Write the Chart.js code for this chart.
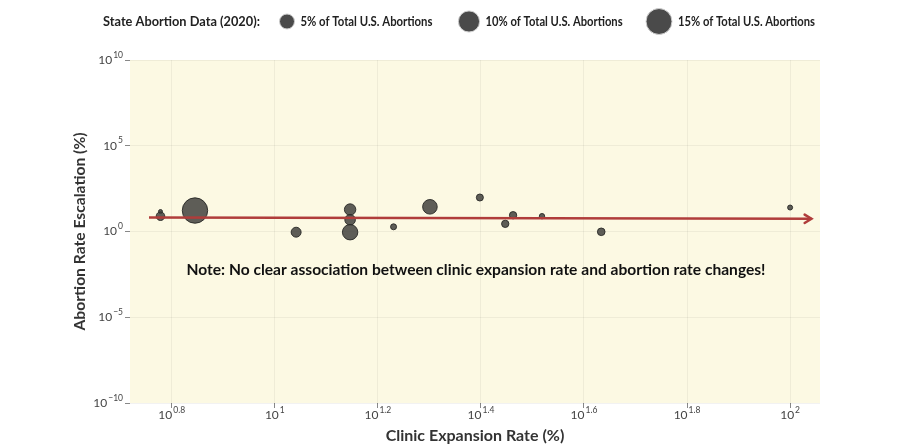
<!DOCTYPE html>
<html>
<head>
<meta charset="utf-8">
<script src="https://cdn.jsdelivr.net/npm/chart.js@4.4.1/dist/chart.umd.min.js"></script>
<style>
  html, body { margin: 0; padding: 0; background: #fff; }
</style>
</head>
<body>
<canvas id="chart" width="902" height="446"></canvas>
<script>
// state points: clinic expansion rate (%), abortion rate escalation (%), share of US abortions (%)
const clinicExpansion = [6, 6, 7, 11, 14, 14, 14, 17, 20, 25, 28, 29, 33, 43, 100];
const abortionEscalation = [14.6, 7.8, 16.7, 0.91, 19.1, 4.8, 0.91, 1.88, 27.5, 96, 2.8, 8.9, 7.8, 0.96, 25];
const abortionShare = [0.36, 1.65, 14.4, 2.2, 2.9, 2.5, 5.3, 0.8, 4.75, 1.1, 1.2, 1.2, 0.65, 1.3, 0.56];

// trend arrow
const trendX = [5.7, 110];
const trendY = [6.5, 5.5];

// axis ticks (powers of ten)
const xTickExps = [0.8, 1, 1.2, 1.4, 1.6, 1.8, 2];
const yTickExps = [-10, -5, 0, 5, 10];

// size legend
const legendShares = [5, 10, 15];
const legendLabels = ['5% of Total U.S. Abortions', '10% of Total U.S. Abortions', '15% of Total U.S. Abortions'];

const FONT = 'Lato, "Noto Sans", sans-serif';
const BUBBLE_FILL = 'rgba(66, 66, 62, 0.85)';
const BUBBLE_EDGE = 'rgba(40, 40, 38, 0.9)';
const TREND_COLOR = '#b03d3b';

function bubbleRadius(share) {
    return 3.35 * Math.sqrt(share);
}

// the original uses a narrow face, so squeeze wide text into the same room
function drawNarrow(ctx, text, x, y, size, width, align) {
    ctx.font = `bold ${size}px ${FONT}`;
    const sx = Math.min(1, width / ctx.measureText(text).width);
    ctx.save();
    ctx.translate(x, y);
    ctx.scale(sx, 1);
    ctx.textAlign = align;
    ctx.textBaseline = 'middle';
    ctx.fillText(text, 0, 0);
    ctx.restore();
}

function expLabel(e) {
    return String(e).replace('-', '\u2212');
}

// "10" with a raised exponent
function drawPower(ctx, exp, x, y, align) {
    ctx.font = `12px ${FONT}`;
    const baseW = ctx.measureText('10').width;
    ctx.font = `8.5px ${FONT}`;
    const expW = ctx.measureText(exp).width;
    const left = align === 'right' ? x - baseW - expW - 1 : x - (baseW + expW + 1) / 2;
    ctx.textAlign = 'left';
    ctx.textBaseline = 'middle';
    ctx.font = `12px ${FONT}`;
    ctx.fillText('10', left, y);
    ctx.font = `8.5px ${FONT}`;
    ctx.fillText(exp, left + baseW + 1, y - 5);
}

const decorPlugin = {
    id: 'decor',
    beforeDraw(chart) {
        const { ctx, chartArea: a } = chart;
        ctx.save();
        ctx.fillStyle = '#fcf9e3';
        ctx.fillRect(a.left, a.top, a.right - a.left, a.bottom - a.top);
        ctx.restore();
    },
    afterDatasetsDraw(chart) {
        // arrow head at the end of the trend line
        const { ctx } = chart;
        const xs = chart.scales.x, ys = chart.scales.y;
        const n = trendX.length;
        const x1 = xs.getPixelForValue(trendX[n - 2]), y1 = ys.getPixelForValue(trendY[n - 2]);
        const x2 = xs.getPixelForValue(trendX[n - 1]), y2 = ys.getPixelForValue(trendY[n - 1]);
        const ang = Math.atan2(y2 - y1, x2 - x1);
        const len = 8;
        ctx.save();
        ctx.strokeStyle = TREND_COLOR;
        ctx.lineWidth = 2.5;
        ctx.lineCap = 'round';
        ctx.beginPath();
        ctx.moveTo(x2 - len * Math.cos(ang - 0.55), y2 - len * Math.sin(ang - 0.55));
        ctx.lineTo(x2, y2);
        ctx.lineTo(x2 - len * Math.cos(ang + 0.55), y2 - len * Math.sin(ang + 0.55));
        ctx.stroke();
        ctx.restore();
    },
    afterDraw(chart) {
        const { ctx, chartArea: a } = chart;
        const xs = chart.scales.x, ys = chart.scales.y;
        ctx.save();

        // tick labels
        ctx.fillStyle = '#444';
        yTickExps.forEach(e => {
            drawPower(ctx, expLabel(e), a.left - 7, ys.getPixelForValue(Math.pow(10, e)), 'right');
        });
        xTickExps.forEach(e => {
            drawPower(ctx, expLabel(e), xs.getPixelForValue(Math.pow(10, e)), a.bottom + 12, 'center');
        });

        // axis titles
        ctx.fillStyle = '#333';
        drawNarrow(ctx, 'Clinic Expansion Rate (%)', (a.left + a.right) / 2, 436, 16, 180, 'center');
        ctx.save();
        ctx.translate(80, (a.top + a.bottom) / 2);
        ctx.rotate(-Math.PI / 2);
        drawNarrow(ctx, 'Abortion Rate Escalation (%)', 0, 0, 16, 198, 'center');
        ctx.restore();

        // note
        ctx.fillStyle = '#111';
        drawNarrow(ctx, 'Note: No clear association between clinic expansion rate and abortion rate changes!',
            476, 270, 16, 579, 'center');

        // size legend
        ctx.fillStyle = '#222';
        drawNarrow(ctx, 'State Abortion Data (2020):', 103, 21.5, 13.5, 157, 'left');
        const circleX = [287, 469, 659];
        legendShares.forEach((s, i) => {
            ctx.beginPath();
            ctx.arc(circleX[i], 21.5, bubbleRadius(s), 0, Math.PI * 2);
            ctx.fillStyle = '#4a4a4a';
            ctx.fill();
            ctx.strokeStyle = '#d0d0d0';
            ctx.lineWidth = 1;
            ctx.stroke();
            ctx.fillStyle = '#222';
            drawNarrow(ctx, legendLabels[i], circleX[i] + bubbleRadius(s) + 6, 21.5, 12.5, i === 0 ? 132 : 137, 'left');
        });

        ctx.restore();
    }
};

const points = clinicExpansion.map((x, i) => ({
    x: x,
    y: abortionEscalation[i],
    r: bubbleRadius(abortionShare[i])
}));

new Chart(document.getElementById('chart'), {
    type: 'bubble',
    data: {
        datasets: [
            {
                type: 'line',
                data: trendX.map((x, i) => ({ x: x, y: trendY[i] })),
                borderColor: TREND_COLOR,
                borderWidth: 2.5,
                pointRadius: 0,
                fill: false,
                order: 0
            },
            {
                type: 'bubble',
                data: points,
                backgroundColor: BUBBLE_FILL,
                borderColor: BUBBLE_EDGE,
                borderWidth: 1,
                order: 1
            }
        ]
    },
    options: {
        responsive: false,
        animation: false,
        layout: { padding: { left: 125, right: 82, top: 60, bottom: 38 } },
        plugins: {
            legend: { display: false },
            tooltip: { enabled: false }
        },
        scales: {
            x: {
                type: 'logarithmic',
                min: Math.pow(10, 0.719),
                max: Math.pow(10, 2.058),
                afterBuildTicks: s => { s.ticks = xTickExps.map(e => ({ value: Math.pow(10, e) })); },
                ticks: { display: false },
                grid: { color: 'rgba(0, 0, 0, 0.05)', tickColor: '#888', tickLength: 5 },
                border: { display: false }
            },
            y: {
                type: 'logarithmic',
                min: 1e-10,
                max: 1e10,
                afterBuildTicks: s => { s.ticks = yTickExps.map(e => ({ value: Math.pow(10, e) })); },
                ticks: { display: false },
                grid: { color: 'rgba(0, 0, 0, 0.05)', tickColor: '#888', tickLength: 5 },
                border: { display: false }
            }
        }
    },
    plugins: [decorPlugin]
});
</script>
</body>
</html>
